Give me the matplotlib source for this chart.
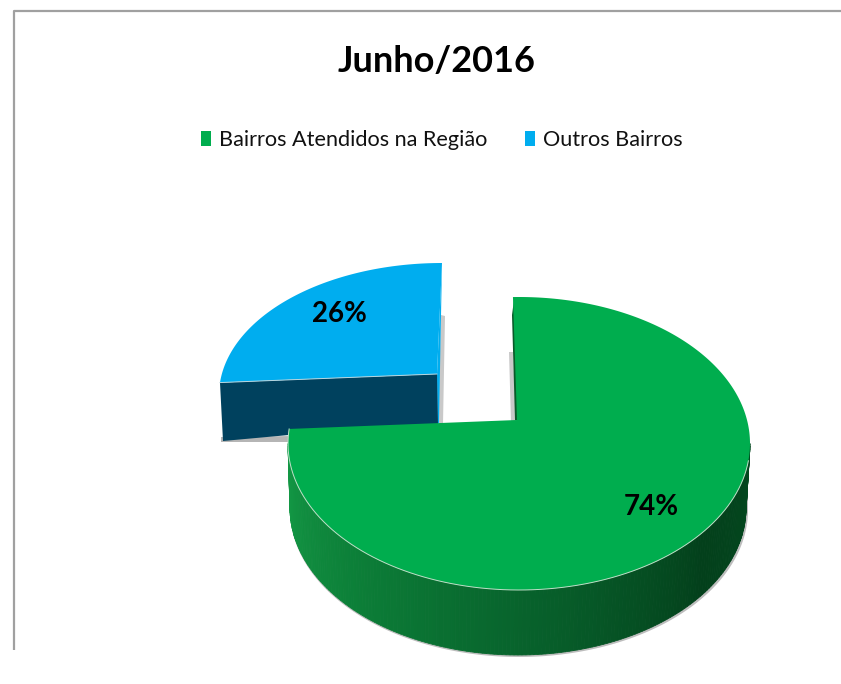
import numpy as np
import matplotlib
matplotlib.use("Agg")
import matplotlib.pyplot as plt
from matplotlib.colors import LinearSegmentedColormap
from matplotlib.patches import Polygon, Patch

title = "Junho/2016"
categories = ["Bairros Atendidos na Região", "Outros Bairros"]
values = [74, 26]
labels = ["74%", "26%"]

GREEN, BLUE = "#00AD4E", "#00ADEF"
plt.rcParams["font.family"] = ["Lato", "DejaVu Sans"]

fig = plt.figure(figsize=(8.41, 6.84), dpi=100)
ax = fig.add_axes([0, 0, 1, 1])
ax.set_xlim(0, 841)
ax.set_ylim(684, 0)
ax.axis("off")

# frame
ax.plot([14.5, 14.5, 841], [650, 10.5, 10.5], color="#a0a0a0", lw=1.6, solid_capstyle="butt")


def ell(cx, cy, rx, ry, deg):
    t = np.radians(deg)
    return np.column_stack([cx + rx * np.cos(t), cy - ry * np.sin(t)])


# perspective correction of the sweep on screen
sweep_green = values[0] / sum(values) * 360 + 10.8
sweep_blue = values[1] / sum(values) * 360 - 9.0

# ---- blue slice ----
B = dict(cx=442, cy=395, rx=223, ry=132)
b_arc = ell(B["cx"], B["cy"], B["rx"], B["ry"], np.linspace(90, 90 + sweep_blue, 80))
b_apex = (437, 374)
ax.add_patch(Polygon([(441, 315), (445, 316), (443, 424), (438, 424)], fc="#c9c9c9", ec="none", zorder=1))
ax.add_patch(Polygon([(221, 442), (292, 442), (292, 436), (221, 437)], fc="#b5b5b5", ec="none", zorder=1))
ax.add_patch(Polygon([b_apex, (442, 263), (439, 423), (437.5, 423)], fc=BLUE, ec="none", zorder=2))
front = [tuple(b_arc[-1]), b_apex, (438, 424), (300, 434), (223, 441)]
ax.add_patch(Polygon(front, fc="#00415E", ec="none", zorder=2))
ax.add_patch(Polygon(np.vstack([b_arc, [b_apex]]), fc=BLUE, ec="none", zorder=3))
ax.plot([b_arc[-1][0], b_apex[0]], [b_arc[-1][1], b_apex[1]], color="#b9d6df", lw=0.7, zorder=4)

# ---- green slice ----
T = dict(cx=519, cy=443.5, rx=231, ry=146.5)
S = dict(cx=518, cy=508, rx=228, ry=147)
g_start = 91.5
g_angles = np.linspace(g_start, g_start - sweep_green, 300)
g_arc = ell(T["cx"], T["cy"], T["rx"], T["ry"], g_angles)
g_apex = (517, 420)

# soft shadows
ax.add_patch(Polygon([(509, 352), (513, 352), (516, 422), (511, 422)], fc="#c9c9c9", ec="none", zorder=4))
ax.add_patch(Polygon([(512, 315), (514, 300), (518, 420), (515, 420)], fc="#0A5A2A", ec="none", zorder=5))
sh = ell(S["cx"] + 1, S["cy"] + 2, S["rx"] + 1, S["ry"], np.linspace(-178, 0, 200))
ax.add_patch(Polygon(np.vstack([[(288, 463)], sh, [(748, 480)]]), fc="#bdbdbd", ec="none", zorder=4))

# side wall as shaded strips
cmap = LinearSegmentedColormap.from_list(
    "wall", [(0, "#149A46"), (0.25, "#0C7F38"), (0.55, "#075E2A"), (0.8, "#03401B"), (1, "#03481F")]
)
edges = np.linspace(-180, 0, 181)
top_e = ell(T["cx"], T["cy"], T["rx"], T["ry"], edges)
bot_e = ell(S["cx"], S["cy"], S["rx"], S["ry"], edges)
for i in range(len(edges) - 1):
    ax.add_patch(Polygon([top_e[i], top_e[i + 1], bot_e[i + 1], bot_e[i]],
                         fc=cmap(i / (len(edges) - 2)), ec=cmap(i / (len(edges) - 2)), lw=0.6, zorder=5))

ax.add_patch(Polygon(np.vstack([g_arc, [g_apex]]), fc=GREEN, ec="none", zorder=6))
rim = g_arc[g_angles < -6]
ax.plot(rim[:, 0], rim[:, 1], color="#bfe0c8", lw=0.7, zorder=7)

# ---- text ----
ax.text(437, 62, title, ha="center", va="center", fontsize=26, fontweight="bold", color="black", zorder=9)
ax.text(339, 314, labels[1], ha="center", va="center", fontsize=20, fontweight="bold", zorder=9)
ax.text(651, 507, labels[0], ha="center", va="center", fontsize=20, fontweight="bold", zorder=9)

handles = [Patch(fc=GREEN, ec="none"), Patch(fc=BLUE, ec="none")]
leg = ax.legend(handles, categories, ncol=2, loc="center", bbox_to_anchor=(442 / 841, 1 - 140 / 684),
                frameon=False, fontsize=15.6, handlelength=0.46, handleheight=0.75,
                handletextpad=0.37, columnspacing=1.75, borderpad=0, labelcolor="#111111")

fig.savefig("out.png", dpi=100, facecolor="white")
